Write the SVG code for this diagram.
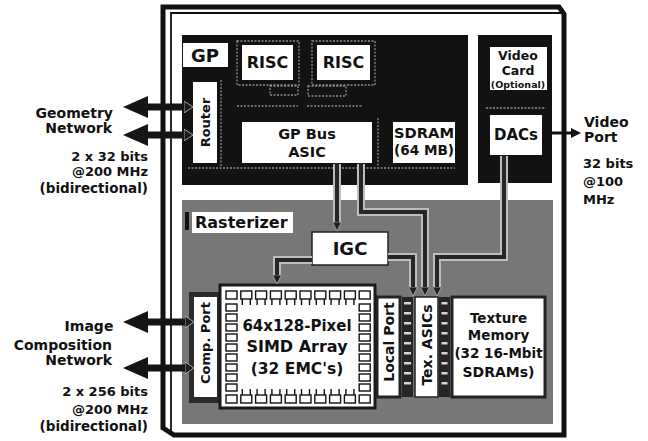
<svg xmlns="http://www.w3.org/2000/svg" width="648" height="441" viewBox="0 0 648 441">
<style>
text{font-family:"DejaVu Sans","Liberation Sans",sans-serif;font-weight:bold;fill:#111}
.c{text-anchor:middle}
.r{text-anchor:end}
.wb{fill:#fff;stroke:#222;stroke-width:1.5}
.wd{fill:#fff;stroke:#222;stroke-width:3}
.blk{fill:#121212}
.halo{fill:none;stroke:#8c8c8c;stroke-width:1.3;stroke-dasharray:2 1.5}
.wire{fill:none;stroke:#262626;stroke-width:4}
.wireh{fill:none;stroke:#bdbdbd;stroke-width:8}
.grid rect{fill:#fff;stroke:#111;stroke-width:1.4}
.legs{fill:none;stroke:#111;stroke-width:1.4}
.pin{fill:#d6d6d6}
.strip{fill:#262626}
.bidi{fill:none;stroke:#151515;stroke-width:7}
.sh{paint-order:stroke;stroke:#fff;stroke-width:3}
</style>
<defs>
<marker id="ah" viewBox="0 0 10 10" markerUnits="userSpaceOnUse" markerWidth="10" markerHeight="9" refX="0" refY="5" orient="auto">
<path d="M0,0 L10,5 L0,10 Z" fill="#1e1e1e" stroke="#bdbdbd" stroke-width="0.8"/>
</marker>
<marker id="ahs" viewBox="0 0 10 10" markerUnits="userSpaceOnUse" markerWidth="10" markerHeight="10" refX="0" refY="5" orient="auto">
<path d="M0,0 L10,5 L0,10 Z" fill="#111"/>
</marker>
<marker id="big" viewBox="0 0 25 22" markerUnits="userSpaceOnUse" markerWidth="25" markerHeight="22" refX="0" refY="11" orient="auto-start-reverse">
<path d="M0,0 L25,11 L0,22 Z" fill="#151515"/>
</marker>
<marker id="small" viewBox="0 0 9 12" markerUnits="userSpaceOnUse" markerWidth="9" markerHeight="12" refX="0" refY="6" orient="auto">
<path d="M0,0 L9,6 L0,12 Z" fill="#1a1a1a" stroke="#c8c8c8" stroke-width="0.8"/>
</marker>
</defs>
<rect width="648" height="441" fill="#fff"/>

<g id="board">
<path d="M163,428 V7 H559 L564,14 V435 H174 Z" fill="none" stroke="#111" stroke-width="5"/>
<path d="M171,433 V13 H562" fill="none" stroke="#111" stroke-width="1.8"/>
</g>

<g id="gp">
<rect class="blk" x="182" y="35" width="286" height="150"/>
<rect class="halo" x="237" y="41" width="62" height="44"/>
<rect class="halo" x="312" y="41" width="63" height="44"/>
<path class="halo" d="M270,86 H298 V95 H270 Z M308,86 H346 V96 H308 Z M237,106 H298 M307,106 H362 M188,168 H455 M221,80 V166 M378,118 V166"/>
<rect x="183" y="43" width="45" height="24" fill="#fff"/>
<text class="c" x="205" y="62" font-size="18">GP</text>
</g>

<g id="risc1">
<rect x="242" y="45" width="51" height="35" fill="#fff"/>
<text class="c" x="267.5" y="68" font-size="16">RISC</text>
</g>
<g id="risc2">
<rect x="317" y="45" width="53" height="35" fill="#fff"/>
<text class="c" x="343.5" y="68" font-size="16">RISC</text>
</g>
<g id="router">
<rect x="193" y="82" width="24" height="81" fill="#fff"/>
<text class="c" x="205" y="122.5" dy="0.36em" font-size="13" transform="rotate(-90 205 122.5)">Router</text>
</g>
<g id="gpbus">
<rect x="242" y="122" width="130" height="41" fill="#fff"/>
<text class="c" x="307" y="139" font-size="14.5">GP Bus</text>
<text class="c" x="307" y="157" font-size="14.5">ASIC</text>
</g>
<g id="sdram">
<rect x="393" y="122" width="62" height="41" fill="#fff"/>
<text class="c" x="424" y="138" font-size="14.5" textLength="60" lengthAdjust="spacingAndGlyphs">SDRAM</text>
<text class="c" x="424" y="155" font-size="14" textLength="60" lengthAdjust="spacingAndGlyphs">(64 MB)</text>
</g>

<g id="videocard">
<rect class="blk" x="478" y="35" width="74" height="148"/>
<path class="halo" d="M486,108 H546"/>
<rect x="490" y="47" width="57" height="43" fill="#fff"/>
<text class="c" x="518" y="60" font-size="12.5">Video</text>
<text class="c" x="518" y="75" font-size="12.5">Card</text>
<text class="c" x="518" y="87.5" font-size="9.5">(Optional)</text>
</g>
<g id="dacs">
<rect x="490" y="115" width="52" height="40" fill="#fff"/>
<text class="c" x="516" y="139.5" font-size="15">DACs</text>
</g>

<g id="rasterizer">
<rect x="182" y="200" width="371" height="224" fill="#777"/>
<rect x="185" y="212" width="4" height="18" fill="#111"/>
<rect x="192" y="212" width="101" height="21" fill="#fff"/>
<text x="195" y="228" font-size="16">Rasterizer</text>
</g>
<g id="igc">
<rect x="312" y="232" width="76" height="33" class="wb"/>
<text class="c" x="350" y="255" font-size="18">IGC</text>
</g>

<g id="compport">
<rect x="189" y="292" width="32" height="111" fill="#2a2a2a"/>
<rect x="194" y="297" width="23" height="100" fill="#fff"/>
<text class="c" x="205.5" y="343" dy="0.36em" font-size="13" transform="rotate(-90 205.5 343)">Comp. Port</text>
</g>

<g id="simd">
<rect x="220" y="285" width="155" height="123" fill="#fff" stroke="#1a1a1a" stroke-width="3"/>
<g class="grid">
<rect x="226" y="291" width="11" height="8"/><rect x="240.8" y="291" width="11" height="8"/><rect x="255.6" y="291" width="11" height="8"/><rect x="270.4" y="291" width="11" height="8"/><rect x="285.2" y="291" width="11" height="8"/><rect x="300" y="291" width="11" height="8"/><rect x="314.8" y="291" width="11" height="8"/><rect x="329.6" y="291" width="11" height="8"/><rect x="344.4" y="291" width="11" height="8"/><rect x="359.2" y="291" width="11" height="8"/>
<rect x="226" y="395" width="11" height="8"/><rect x="240.8" y="395" width="11" height="8"/><rect x="255.6" y="395" width="11" height="8"/><rect x="270.4" y="395" width="11" height="8"/><rect x="285.2" y="395" width="11" height="8"/><rect x="300" y="395" width="11" height="8"/><rect x="314.8" y="395" width="11" height="8"/><rect x="329.6" y="395" width="11" height="8"/><rect x="344.4" y="395" width="11" height="8"/><rect x="359.2" y="395" width="11" height="8"/>
<rect x="226" y="304" width="11" height="7"/><rect x="226" y="314" width="11" height="7"/><rect x="226" y="324" width="11" height="7"/><rect x="226" y="334" width="11" height="7"/><rect x="226" y="344" width="11" height="7"/><rect x="226" y="354" width="11" height="7"/><rect x="226" y="364" width="11" height="7"/><rect x="226" y="374" width="11" height="7"/><rect x="226" y="384" width="11" height="7"/>
<rect x="359.2" y="304" width="11" height="7"/><rect x="359.2" y="314" width="11" height="7"/><rect x="359.2" y="324" width="11" height="7"/><rect x="359.2" y="334" width="11" height="7"/><rect x="359.2" y="344" width="11" height="7"/><rect x="359.2" y="354" width="11" height="7"/><rect x="359.2" y="364" width="11" height="7"/><rect x="359.2" y="374" width="11" height="7"/><rect x="359.2" y="384" width="11" height="7"/>
</g>
<path class="legs" d="M242.3,299v6M250.3,299v6M257.1,299v6M265.1,299v6M271.9,299v6M279.9,299v6M286.7,299v6M294.7,299v6M301.5,299v6M309.5,299v6M316.3,299v6M324.3,299v6M331.1,299v6M339.1,299v6M345.9,299v6M353.9,299v6M242.3,395v-6M250.3,395v-6M257.1,395v-6M265.1,395v-6M271.9,395v-6M279.9,395v-6M286.7,395v-6M294.7,395v-6M301.5,395v-6M309.5,395v-6M316.3,395v-6M324.3,395v-6M331.1,395v-6M339.1,395v-6M345.9,395v-6M353.9,395v-6"/>
<text class="c sh" x="297" y="331" font-size="15">64x128-Pixel</text>
<text class="c sh" x="297" y="352" font-size="16">SIMD Array</text>
<text class="c sh" x="297" y="374" font-size="15.5">(32 EMC's)</text>
</g>

<g id="localport">
<rect x="377" y="297" width="23" height="100" class="wd"/>
<text class="c" x="388.5" y="342" dy="0.36em" font-size="14" transform="rotate(-90 388.5 342)">Local Port</text>
</g>

<g id="texasics">
<rect class="strip" x="402" y="297" width="11" height="100"/>
<rect class="strip" x="439" y="297" width="11" height="100"/>
<rect class="pin" x="404" y="302" width="7" height="2.5"/><rect class="pin" x="404" y="312" width="7" height="2.5"/><rect class="pin" x="404" y="322" width="7" height="2.5"/><rect class="pin" x="404" y="332" width="7" height="2.5"/><rect class="pin" x="404" y="342" width="7" height="2.5"/><rect class="pin" x="404" y="352" width="7" height="2.5"/><rect class="pin" x="404" y="362" width="7" height="2.5"/><rect class="pin" x="404" y="372" width="7" height="2.5"/><rect class="pin" x="404" y="382" width="7" height="2.5"/>
<rect class="pin" x="441.5" y="302" width="6" height="2.5"/><rect class="pin" x="441.5" y="312" width="6" height="2.5"/><rect class="pin" x="441.5" y="322" width="6" height="2.5"/><rect class="pin" x="441.5" y="332" width="6" height="2.5"/><rect class="pin" x="441.5" y="342" width="6" height="2.5"/><rect class="pin" x="441.5" y="352" width="6" height="2.5"/><rect class="pin" x="441.5" y="362" width="6" height="2.5"/><rect class="pin" x="441.5" y="372" width="6" height="2.5"/><rect class="pin" x="441.5" y="382" width="6" height="2.5"/>
<rect x="415" y="297" width="23" height="100" fill="#fff" stroke="#222" stroke-width="1.5"/>
<text class="c" x="426.5" y="345" dy="0.36em" font-size="14" transform="rotate(-90 426.5 345)">Tex. ASICs</text>
</g>

<g id="texmem">
<rect x="452" y="297" width="93" height="100" class="wd"/>
<text class="c" x="498.5" y="323" font-size="13.5">Texture</text>
<text class="c" x="498.5" y="340" font-size="13.5">Memory</text>
<text class="c" x="498.5" y="358" font-size="13.5">(32 16-Mbit</text>
<text class="c" x="498.5" y="377" font-size="14">SDRAMs)</text>
</g>

<g id="connectors">
<path class="wireh" d="M337,164 V222 M361,164 V212 H425 V287 M388,257 H413 V287 M504,156 V257 H437 V287 M312,260 H277 V275"/>
<path class="wire" marker-end="url(#ah)" d="M337,163 V222"/>
<path class="wire" marker-end="url(#ah)" d="M361,163 V212 H425 V287"/>
<path class="wire" marker-end="url(#ah)" d="M388,257 H413 V287"/>
<path class="wire" marker-end="url(#ah)" d="M504,155 V257 H437 V287"/>
<path class="wire" marker-end="url(#ah)" d="M312,260 H277 V275"/>
<path fill="none" stroke="#111" stroke-width="3" marker-end="url(#ahs)" d="M542,133 H571"/>
<path class="bidi" marker-start="url(#big)" marker-end="url(#small)" d="M148,107 H184"/>
<path class="bidi" marker-start="url(#big)" marker-end="url(#small)" d="M148,135 H184"/>
<path class="bidi" marker-start="url(#big)" marker-end="url(#small)" d="M148,322 H185"/>
<path class="bidi" marker-start="url(#big)" marker-end="url(#small)" d="M148,368 H185"/>
</g>

<g id="labels">
<text class="r" x="113" y="118" font-size="14">Geometry</text>
<text class="r" x="112" y="133" font-size="14">Network</text>
<text class="r" x="148" y="161" font-size="13">2 x 32 bits</text>
<text class="r" x="148" y="176" font-size="13">@200 MHz</text>
<text class="r" x="148" y="193" font-size="13.5">(bidirectional)</text>
<text class="c" x="89" y="331" font-size="14">Image</text>
<text class="r" x="112" y="350" font-size="14">Composition</text>
<text class="r" x="112" y="365" font-size="14">Network</text>
<text class="r" x="148" y="396" font-size="13">2 x 256 bits</text>
<text class="r" x="148" y="414" font-size="13">@200 MHz</text>
<text class="r" x="148" y="431" font-size="13.5">(bidirectional)</text>
<text x="584" y="127" font-size="14">Video</text>
<text x="584" y="142" font-size="14">Port</text>
<text x="583" y="168" font-size="13">32 bits</text>
<text x="583" y="186" font-size="13">@100</text>
<text x="583" y="204" font-size="13">MHz</text>
</g>
</svg>
